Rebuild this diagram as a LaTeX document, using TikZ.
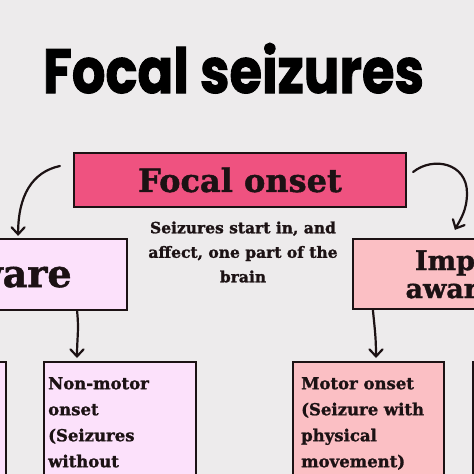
\documentclass[tikz,border=0pt]{standalone}
\usepackage{fontspec}
\setmainfont{DejaVu Serif}[BoldFeatures={FakeBold=1.3}]
\newfontfamily\titlefont{Poppins}[BoldFeatures={FakeBold=1.6}]
\usetikzlibrary{arrows.meta,calc}
\definecolor{bg}{HTML}{EDEBEC}
\definecolor{ink}{HTML}{1C1214}
\definecolor{onsetc}{HTML}{EF5280}
\definecolor{awarec}{HTML}{FCE1FB}
\definecolor{impc}{HTML}{FBBFC4}
\tikzset{
  box/.style={draw=ink, line width=2.2pt, inner sep=0pt},
  bodytext/.style={anchor=north west, align=left, inner sep=0pt, text=ink,
    font=\bfseries\fontsize{16.5}{26}\selectfont},
  conn/.style={draw=ink, line width=2.2pt, line cap=round,
    -{Straight Barb[length=7pt,width=13pt,line cap=round]}},
  titletext/.style={anchor=base, inner sep=0pt}
}
\begin{document}
\begin{tikzpicture}[x=1pt,y=-1pt]
\useasboundingbox (0,0) rectangle (474,474);
\clip (0,0) rectangle (474,474);
\fill[bg] (0,0) rectangle (474,474);

% title
\node[titletext, text=black] (title) at (233.5,93)
  {\resizebox{381pt}{50pt}{\titlefont\bfseries Focal seizures}};

% focal onset
\node[box, fill=onsetc, minimum width=332pt, minimum height=54pt, text=ink,
  font=\bfseries\fontsize{32}{36}\selectfont] (onset) at (240,180) {Focal onset};
\node[align=center, inner sep=0pt, text=ink,
  font=\bfseries\fontsize{15.5}{24.5}\selectfont] (desc) at (243,252)
  {Seizures start in, and\\affect, one part of the\\brain};

% second row
\node[box, fill=awarec, minimum width=237pt, minimum height=71pt, text=ink,
  text height=25pt, text depth=0pt,
  font=\bfseries\fontsize{38}{40}\selectfont] (aware) at (8.5,274.5) {aware};
\node[box, fill=impc, minimum width=262pt, minimum height=70pt, text=ink,
  align=center, font=\bfseries\fontsize{27}{28}\selectfont] (impaired) at (484,274)
  {Impaired\\awareness};

% third row
\node[box, fill=awarec, anchor=north east, minimum width=150pt, minimum height=150pt] (farleft) at (7,361) {};
\node[box, fill=awarec, anchor=north west, minimum width=152pt, minimum height=150pt] (nonmotor) at (43,361) {};
\node[bodytext] (nmtext) at ($(nonmotor.north west)+(5,16)$)
  {Non-motor\\onset\\(Seizures\\without};
\node[box, fill=impc, anchor=north west, minimum width=151pt, minimum height=150pt] (motor) at (292,361) {};
\node[bodytext] (mtext) at ($(motor.north west)+(9,16)$)
  {Motor onset\\(Seizure with\\physical\\movement)};
\node[box, fill=impc, anchor=north west, minimum width=150pt, minimum height=150pt] (farright) at (472,361) {};

% connectors
\draw[conn] ([xshift=-13pt,yshift=14pt]onset.west)
  .. controls +(-28,6) and +(0,-40) .. ([xshift=-110pt,yshift=2pt]aware.north east);
\coordinate (rmid) at (467,193);
\draw[conn] ([xshift=6pt,yshift=8pt]onset.east)
  .. controls +(20,-16) and +(0,-30) .. (rmid)
  .. controls +(0,18) and +(5,-10) .. ([xshift=103pt,yshift=8pt]impaired.north west);
\draw[conn] ([xshift=-51pt]aware.south east)
  .. controls +(2,20) and +(0,-20) .. ([xshift=34pt,yshift=3pt]nonmotor.north west);
\draw[conn] ([xshift=21pt]impaired.south west)
  .. controls +(2,20) and +(0,-20) .. ([xshift=84pt,yshift=3pt]motor.north west);
\end{tikzpicture}
\end{document}
